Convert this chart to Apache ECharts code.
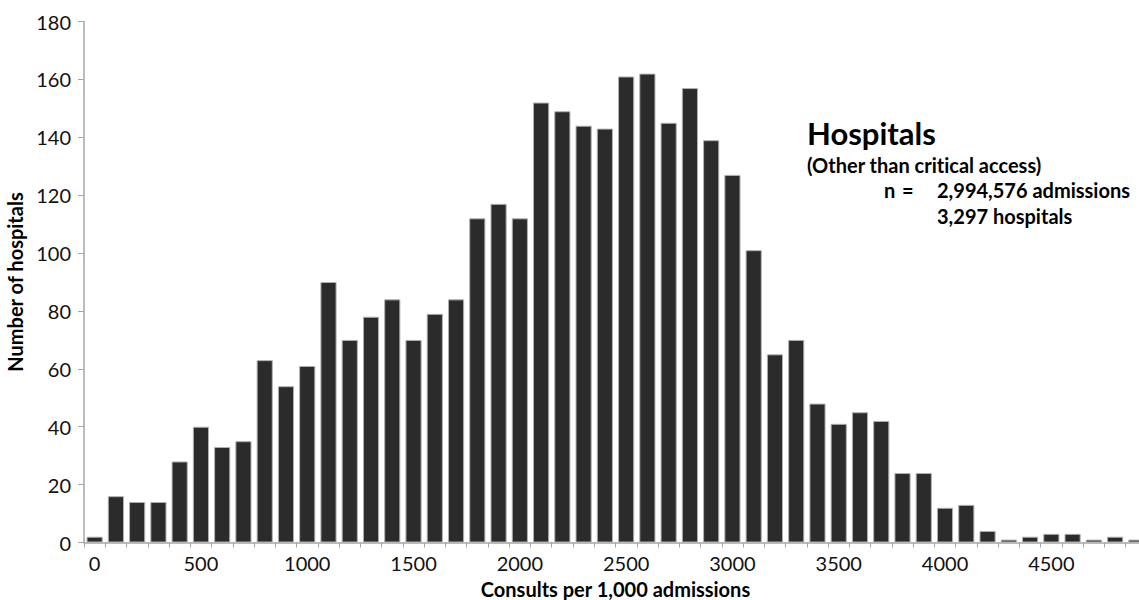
<!DOCTYPE html>
<html>
<head>
<meta charset="utf-8">
<script src="https://cdn.jsdelivr.net/npm/echarts@6/dist/echarts.min.js"></script>
<style>
html,body{margin:0;padding:0;background:#fff;overflow:hidden;width:1139px;height:600px;}
#chart{width:1139px;height:600px;overflow:hidden;}
#chart svg{display:block;}
#chart text{font-variant-ligatures:none;font-feature-settings:"liga" 0;}
</style>
</head>
<body>
<div id="chart"></div>
<script>
// Bin start values (consults per 1,000 admissions), bins of 100
var categories = ['0','100','200','300','400','500','600','700','800','900',
  '1000','1100','1200','1300','1400','1500','1600','1700','1800','1900',
  '2000','2100','2200','2300','2400','2500','2600','2700','2800','2900',
  '3000','3100','3200','3300','3400','3500','3600','3700','3800','3900',
  '4000','4100','4200','4300','4400','4500','4600','4700','4800','4900'];
// Number of hospitals per bin
var hospitals = [2,16,14,14,28,40,33,35,63,54,
  61,90,70,78,84,70,79,84,112,117,
  112,152,149,144,143,161,162,145,157,139,
  127,101,65,70,48,41,45,42,24,24,
  12,13,4,1,2,3,3,1,2,1];
var yTicks = {min:0, max:180, interval:20};
var annoTitle = 'Hospitals';
var annoSub = '(Other than critical access)';
var annoNLabel = 'n';
var annoEq = '=';
var annoAdm = '2,994,576 admissions';
var annoHosp = '3,297 hospitals';

var chart = echarts.init(document.getElementById('chart'), null, {renderer:'svg', width:1139, height:600});
var axisColor = '#a6a6a6';
var F = 'Lato';
function txt(x, y, s, size){
  return {type:'text', x:x, y:y, silent:true,
    style:{text:s, fontFamily:F, fontWeight:'bold', fontSize:size, fill:'#000', align:'left', verticalAlign:'middle'}};
}
chart.setOption({
  animation:false,
  backgroundColor:'#ffffff',
  grid:{left:84, right:-8, top:21.5, bottom:57.5, containLabel:false, outerBoundsMode:'none'},
  xAxis:{
    type:'category',
    data:categories,
    boundaryGap:true,
    name:'Consults per 1,000 admissions',
    nameLocation:'middle',
    nameGap:36,
    nameTextStyle:{fontFamily:F, fontWeight:'bold', fontSize:20, color:'#000'},
    axisLine:{show:true, lineStyle:{color:axisColor, width:1.5}},
    axisTick:{show:true, interval:0, length:5, lineStyle:{color:axisColor, width:1}},
    axisLabel:{interval:4, margin:10, fontFamily:F, fontSize:20, color:'#111'},
    splitLine:{show:false}
  },
  yAxis:{
    type:'value',
    min:yTicks.min, max:yTicks.max, interval:yTicks.interval,
    name:'Number of hospitals',
    nameLocation:'middle',
    nameGap:50,
    nameTextStyle:{fontFamily:F, fontWeight:'bold', fontSize:20, color:'#000'},
    axisLine:{show:true, lineStyle:{color:axisColor, width:1.5}},
    axisTick:{show:true, length:6, lineStyle:{color:axisColor, width:1}},
    axisLabel:{margin:13, fontFamily:F, fontSize:20, color:'#111', padding:[0,0,3,0]},
    splitLine:{show:false}
  },
  series:[{
    type:'bar',
    data:hospitals,
    barCategoryGap:'24%',
    itemStyle:{color:'#2b2b2b', borderColor:'#b0b0b0', borderWidth:1}
  }],
  graphic:[
    txt(807, 133, annoTitle, 31),
    txt(807, 165, annoSub, 20),
    txt(884, 190, annoNLabel, 20),
    txt(902, 190, annoEq, 20),
    txt(937, 190, annoAdm, 20),
    txt(937, 216, annoHosp, 20)
  ]
});
</script>
</body>
</html>
